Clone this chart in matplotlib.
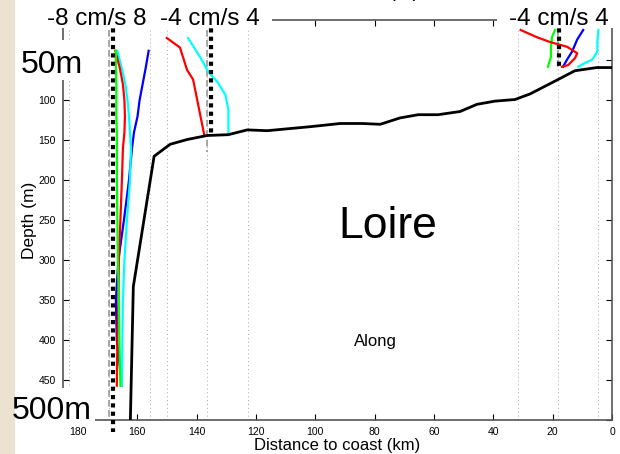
import numpy as np
import matplotlib
matplotlib.use('Agg')
import matplotlib.pyplot as plt
from matplotlib.patches import Rectangle

plt.rcParams['font.family'] = ['Liberation Sans', 'DejaVu Sans']

# bathymetry along the section (km from coast, depth m)
bathy_km = [162.3, 161.3, 154.3, 148.9, 143.1, 136.4, 129.3, 122.9, 116.2, 101.7,
            91.6, 84.2, 78.1, 71.4, 65.3, 58.6, 51.2, 45.5, 39.4, 32.7, 27.6,
            18.2, 12.5, 5.1, 0.0]
bathy_z = [500, 333, 170, 155, 149, 144, 143, 137, 138, 133,
           129, 129, 130, 122, 118, 118, 114, 105, 101, 99, 92,
           74, 63, 59, 59]

# stations: position (km), scale (cm/s), mean speed (cm/s)
st_km = [169.4, 136.4, 18.2]
st_scale = [8, 4, 4]
st_mean = [0.8, 0.4, 0.1]
st_bottom = [515, 145, 58]      # depth where the mean line stops
st_zero_bottom = [500, 165, 62]  # depth where the zero line stops
half_width = 13.6  # km for one full scale

# station 1 profiles (cm/s)
z1 = [38, 60, 80, 100, 120, 140, 160, 200, 250, 300, 350, 400, 457]
u1_green = [1.3, 1.3, 1.4, 1.4, 1.4, 1.5, 1.5, 1.5, 1.6, 1.7, 1.9, 2.0, 2.2]
u1_red = [1.2, 2.1, 2.7, 3.0, 3.1, 3.0, 2.7, 2.5, 2.2, 1.9, 1.8, 1.6, 1.5]
u1_cyan = [1.6, 2.5, 3.2, 3.6, 3.9, 4.1, 4.3, 4.1, 3.5, 3.0, 2.7, 2.6, 2.5]
u1_blue = [7.8, 7.2, 6.6, 6.0, 5.6, 4.9, 4.5, 3.9, 2.9, 1.8, 1.3, 1.5, 2.5]

# station 2 profiles
z2_red = [22, 34, 62, 74, 99, 143]
u2_red = [-4.0, -2.7, -2.0, -1.4, -1.0, -0.3]
z2_cyan = [22, 46, 64, 77, 93, 112, 140]
u2_cyan = [-1.9, -0.7, 0.1, 1.0, 1.8, 2.1, 2.1]

# station 3 profiles
z3_red = [12, 21, 27, 33, 41, 47, 56, 58]
u3_red = [-3.7, -2.1, -0.8, 0.9, 1.9, 1.7, 1.0, 0.4]
z3_green = [12, 21, 34, 46, 58]
u3_green = [-0.3, -0.6, -0.7, -0.7, -1.0]
z3_blue = [12, 24, 39, 49, 58]
u3_blue = [2.5, 1.9, 1.4, 0.9, 0.5]
z3_cyan = [12, 27, 39, 49, 53, 58]
u3_cyan = [4.0, 3.9, 3.9, 3.4, 2.7, 2.0]

xtick_vals = np.arange(0, 181, 20)
ytick_vals = np.arange(0, 501, 50)
ytick_hidden = [0, 50, 500]   # under the white label boxes

W, H = 620, 454


def fx(px):
    return px / W


def fy(py):
    return 1 - py / H


def to_km(i, u):
    return st_km[i] - np.array(u) * half_width / st_scale[i]


fig = plt.figure(figsize=(6.2, 4.54), dpi=100, facecolor='#ebe3cf')
fig.add_artist(Rectangle((fx(15), 0), 1 - fx(15), 1, transform=fig.transFigure,
                         facecolor='white', edgecolor='none', zorder=-1))

ax = fig.add_axes([fx(63), fy(420), fx(612) - fx(63), fy(20.4) - fy(420)])
ax.set_xlim(185, 0)
ax.set_ylim(500, 0)

# grid lines at -scale, 0, +scale of every station
for i in range(3):
    for k in (-1, 0, 1):
        ax.axvline(st_km[i] + k * half_width, color='#aaaaaa', lw=0.7,
                   ls=(0, (1, 3)), zorder=1)
    ax.plot([st_km[i], st_km[i]], [0, st_zero_bottom[i]], color='#999999',
            lw=1.2, ls=(0, (4, 2)), zorder=2)

lw = 1.6
ax.plot(to_km(0, u1_blue), z1, color='#0000ff', lw=lw, zorder=3)
ax.plot(to_km(0, u1_cyan), z1, color='#00ffff', lw=lw, zorder=3)
ax.plot(to_km(0, u1_red), z1, color='#ff0000', lw=lw, zorder=3)
ax.plot(to_km(0, u1_green), z1, color='#00ff00', lw=lw, zorder=3)

ax.plot(to_km(1, u2_red), z2_red, color='#ff0000', lw=lw, zorder=3)
ax.plot(to_km(1, u2_cyan), z2_cyan, color='#00ffff', lw=lw, zorder=3)

ax.plot(to_km(2, u3_green), z3_green, color='#00ff00', lw=lw, zorder=3)
ax.plot(to_km(2, u3_blue), z3_blue, color='#0000ff', lw=lw, zorder=3)
ax.plot(to_km(2, u3_cyan), z3_cyan, color='#00ffff', lw=lw, zorder=3)
ax.plot(to_km(2, u3_red), z3_red, color='#ff0000', lw=lw, zorder=3)

# mean speed lines
for i in range(3):
    xm = to_km(i, st_mean[i])
    ax.plot([xm, xm], [0, st_bottom[i]], color='black', lw=3,
            ls=(0, (1, 1)), solid_capstyle='butt', dash_capstyle='butt',
            clip_on=False, zorder=4)

ax.plot(bathy_km, bathy_z, color='black', lw=2, zorder=5)

ax.set_xticks(xtick_vals)
ax.set_yticks(ytick_vals)
ax.set_yticklabels(['' if v in ytick_hidden else str(v) for v in ytick_vals])
ax.tick_params(direction='in', length=4, width=0.8, labelsize=7.5,
               top=True, right=True, pad=5)
for s in ax.spines.values():
    s.set_color('#555555')
    s.set_linewidth(1.2)

ax.set_xlabel('Distance to coast (km)', fontsize=12, labelpad=1)
ax.set_ylabel('Depth (m)', fontsize=12.5, labelpad=1)

ax.text(75.6, 272, 'Loire', fontsize=32, ha='center', va='baseline')
ax.text(79.8, 408, 'Along', fontsize=12, ha='center', va='baseline')

# white label boxes over the frame
for x0, y0, x1, y1 in [(15, 0, 272, 28), (497, 0, 620, 28),
                       (15, 40, 86, 80), (15, 388, 95, 427)]:
    fig.add_artist(Rectangle((fx(x0), fy(y1)), fx(x1) - fx(x0), fy(y0) - fy(y1),
                             transform=fig.transFigure, facecolor='white',
                             edgecolor='none', zorder=2.5))

fig.text(fx(97), fy(25), '-8 cm/s 8', fontsize=17.5, ha='center', va='baseline')
fig.text(fx(210), fy(25), '-4 cm/s 4', fontsize=17.5, ha='center', va='baseline')
fig.text(fx(558.5), fy(25), '-4 cm/s 4', fontsize=17.5, ha='center', va='baseline')
fig.text(fx(52), fy(73), '50m', fontsize=23, ha='center', va='baseline')
fig.text(fx(51.5), fy(419), '500m', fontsize=23, ha='center', va='baseline')
fig.text(fx(404), fy(-3), '(m)', fontsize=15, ha='center', va='baseline')

fig.savefig('out.png', dpi=100, facecolor=fig.get_facecolor())
